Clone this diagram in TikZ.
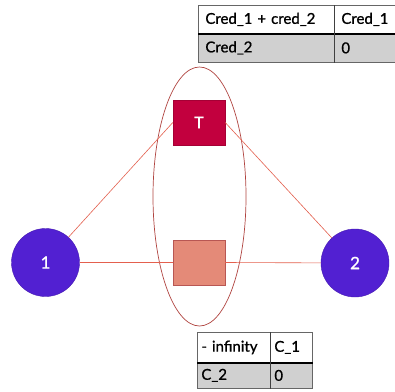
\documentclass[tikz,border=0pt]{standalone}
\usepackage{fontspec}
\setmainfont{Lato}
\newfontfamily\cellfont{Lato}[FakeBold=1]
\usetikzlibrary{positioning}
\definecolor{playerblue}{HTML}{5220D2}
\definecolor{typecrimson}{HTML}{C2003E}
\definecolor{typesalmon}{HTML}{E48A78}
\definecolor{edgered}{HTML}{E4604E}
\definecolor{ovalred}{HTML}{B04440}
\definecolor{cellgray}{HTML}{D0D0D0}

\tikzset{
  player/.style={circle, fill=playerblue, draw=playerblue!85!black, minimum size=68pt,
    inner sep=0pt, text=white, font=\cellfont\fontsize{17}{20}\selectfont},
  typebox/.style={rectangle, minimum width=52pt, minimum height=45pt, inner sep=0pt},
  link/.style={edgered, line width=0.6pt},
  cell/.style={rectangle, draw=black!60, line width=0.8pt, anchor=north west, inner sep=0pt,
    font=\cellfont\fontsize{15}{18}\selectfont, align=left},
}

\begin{document}
\begin{tikzpicture}[x=1pt, y=-1pt]
  \clip (0,0) rectangle (395,391);
  \fill[white] (0,0) rectangle (395,391);

  % information set
  \draw[ovalred, line width=0.7pt] (199.5,196.5) ellipse (46.5pt and 129.5pt);

  % players and types
  \node[player] (p1) at (45.5,262.5) {1};
  \node[player] (p2) at (355,263) {2};
  \node[typebox, fill=typecrimson, draw=typecrimson!85!black, text=white,
    font=\cellfont\fontsize{16}{19}\selectfont] (top) at (199,122.5) {T};
  \node[typebox, fill=typesalmon, draw=ovalred!90] (bot) at (199,262.5) {};

  \draw[link] (p1) -- (top.west);
  \draw[link] (top.east) -- (p2);
  \draw[link] (p1) -- (bot.west);
  \draw[link] (bot.east) -- (p2);

  % payoff table, top
  \node[cell, fill=white, minimum width=136pt, minimum height=28pt, text width=132pt]
    (ua) at (198,5) {\hspace*{5pt}Cred\_1 + cred\_2};
  \node[cell, fill=white, minimum width=80pt, minimum height=28pt, text width=76pt]
    (ub) at (334,5) {\hspace*{5pt}Cred\_1};
  \node[cell, fill=cellgray, minimum width=136pt, minimum height=29pt, text width=132pt]
    (uc) at (198,33) {\hspace*{5pt}Cred\_2};
  \node[cell, fill=cellgray, minimum width=80pt, minimum height=29pt, text width=76pt]
    (ud) at (334,33) {\hspace*{5pt}0};
  \draw[line width=1.6pt] (ua.south west) -- (ub.south east);
  \draw[black!75, line width=1pt] (ua.north east) -- (uc.south east);

  % payoff table, bottom
  \node[cell, fill=white, minimum width=73pt, minimum height=30pt, text width=71pt]
    (la) at (197,332) {\hspace*{3pt}- infinity};
  \node[cell, fill=white, minimum width=42pt, minimum height=30pt, text width=40pt]
    (lb) at (270,332) {\hspace*{3pt}C\_1};
  \node[cell, fill=cellgray, minimum width=73pt, minimum height=26pt, text width=71pt]
    (lc) at (197,362) {\hspace*{3pt}C\_2};
  \node[cell, fill=cellgray, minimum width=42pt, minimum height=26pt, text width=40pt]
    (ld) at (270,362) {\hspace*{3pt}0};
  \draw[line width=1.6pt] (la.south west) -- (lb.south east);
  \draw[black!75, line width=1pt] (la.north east) -- (lc.south east);
\end{tikzpicture}
\end{document}
